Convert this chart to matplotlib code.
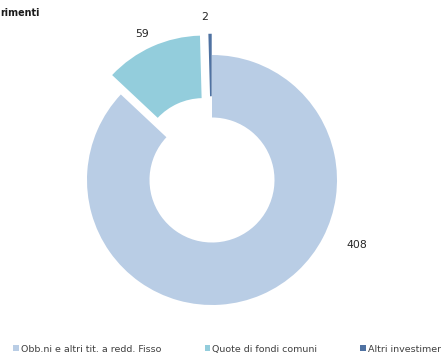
import matplotlib
matplotlib.use("Agg")
import matplotlib.pyplot as plt
import numpy as np

categories = ["Obb.ni e altri tit. a redd. Fisso", "Quote di fondi comuni", "Altri investimenti"]
values = [408, 59, 2]
colors = ["#B9CDE5", "#93CDDC", "#4F72A2"]
explode = [0.0, 0.17, 0.17]
title = "rimenti"

plt.rcParams['font.family'] = ['DejaVu Sans']

fig = plt.figure(figsize=(4.41, 3.56), dpi=100)
ax = fig.add_axes([0, 0, 1, 1])
R = 125.0
cx, cy = 212.0, 176.0

wedges, _ = ax.pie(values, colors=colors, startangle=90, counterclock=False,
                   explode=explode, radius=1.0,
                   wedgeprops=dict(width=0.5, edgecolor='none', linewidth=0))
ax.set_xlim(-cx / R, (441 - cx) / R)
ax.set_ylim(-cy / R, (356 - cy) / R)
ax.set_aspect('auto')
ax.axis('off')

label_pos = [(1.16, -0.52), (-0.56, 1.17), (-0.06, 1.30)]
for v, (lx, ly) in zip(values, label_pos):
    ax.text(lx, ly, str(v), ha='center', va='center', fontsize=7.8, color='#262626')

fig.text(0.0, 0.963, title, ha='left', va='center', fontsize=6.9, fontweight='bold', color='#1a1a1a')

leg = fig.legend(wedges, categories, loc='lower left', bbox_to_anchor=(0.022, -0.004),
                 ncol=3, frameon=False, fontsize=6.8, handlelength=0.62, handleheight=0.62,
                 handletextpad=0.15, columnspacing=4.6, borderaxespad=0.2, borderpad=0.2)
for t in leg.get_texts():
    t.set_color('#404040')

fig.savefig("out.png", dpi=100)
